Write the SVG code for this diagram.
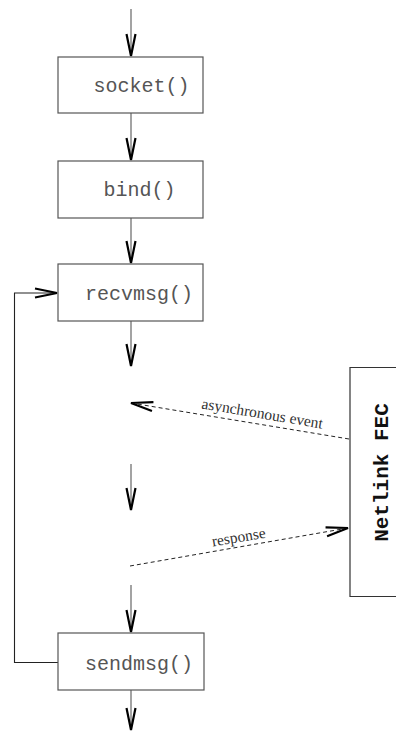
<svg xmlns="http://www.w3.org/2000/svg" width="396" height="731" viewBox="0 0 396 731">
<style>
.box{fill:#fff;stroke:#555;stroke-width:1.2}
.fn{font-family:"Liberation Mono","DejaVu Sans Mono",monospace;font-size:20px;fill:#555;text-anchor:middle}
.fec{font-family:"Liberation Mono","DejaVu Sans Mono",monospace;font-size:21px;font-weight:bold;fill:#111;text-anchor:middle}
.lbl{font-family:"Liberation Serif","Times New Roman",serif;font-size:15.5px;fill:#333;text-anchor:middle}
.ln{fill:none;stroke:#666;stroke-width:1.2}
.loop{fill:none;stroke:#222;stroke-width:1.1}
.dash{fill:none;stroke:#222;stroke-width:1;stroke-dasharray:4,3}
</style>
<defs>
<marker id="v" markerUnits="userSpaceOnUse" markerWidth="30" markerHeight="14" viewBox="-24 -7 26 14" refX="0" refY="0" orient="auto" overflow="visible">
<path d="M-22,-4.5 L0,0 L-22,4.5" fill="none" stroke="#000" stroke-width="2.2"/>
</marker>
</defs>
<g id="connectors">
<line class="ln" x1="131" y1="9" x2="131" y2="56" marker-end="url(#v)"/>
<line class="ln" x1="131" y1="113" x2="131" y2="160" marker-end="url(#v)"/>
<line class="ln" x1="131" y1="218" x2="131" y2="263" marker-end="url(#v)"/>
<line class="ln" x1="131" y1="321" x2="131" y2="366" marker-end="url(#v)"/>
<line class="ln" x1="131" y1="464" x2="131" y2="510" marker-end="url(#v)"/>
<line class="ln" x1="131" y1="585" x2="131" y2="632" marker-end="url(#v)"/>
<line class="ln" x1="131" y1="690" x2="131" y2="730" marker-end="url(#v)"/>
<path class="loop" d="M58,662.5 H14.5 V293 H57" marker-end="url(#v)"/>
<line class="dash" x1="349" y1="439" x2="131" y2="403" marker-end="url(#v)"/>
<line class="dash" x1="130" y1="566" x2="348" y2="528" marker-end="url(#v)"/>
<text class="lbl" transform="translate(261.5,418.5) rotate(9.5)">asynchronous event</text>
<text class="lbl" transform="translate(239.5,542) rotate(-9.5)">response</text>
</g>
<g id="socket">
<rect class="box" x="58" y="57" width="145" height="56"/>
<text class="fn" x="141.5" y="92">socket()</text>
</g>
<g id="bind">
<rect class="box" x="58" y="161" width="145" height="57"/>
<text class="fn" x="139.5" y="196">bind()</text>
</g>
<g id="recvmsg">
<rect class="box" x="58" y="264" width="145" height="57"/>
<text class="fn" x="139" y="300">recvmsg()</text>
</g>
<g id="sendmsg">
<rect class="box" x="58" y="633" width="146" height="57"/>
<text class="fn" x="139" y="670">sendmsg()</text>
</g>
<g id="netlink">
<path class="box" d="M397,367.5 H350 V596.5 H397" style="stroke:#333"/>
<text class="fec" transform="translate(388,472.5) rotate(-90)">Netlink FEC</text>
</g>
</svg>
